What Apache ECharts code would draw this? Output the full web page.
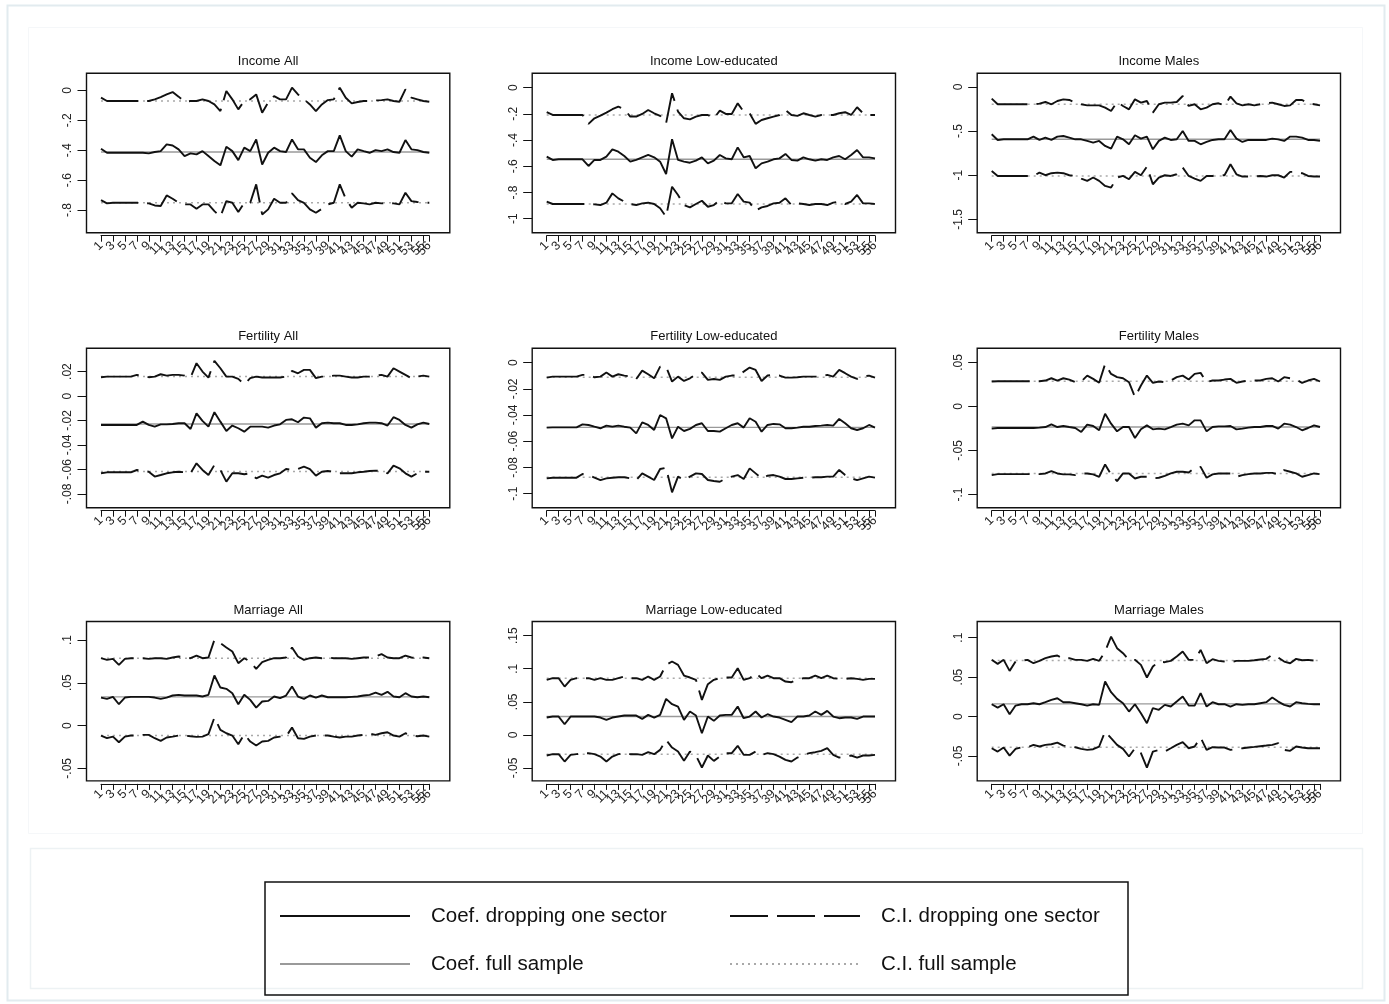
<!DOCTYPE html>
<html><head><meta charset="utf-8">
<script src="https://cdn.jsdelivr.net/npm/echarts@6/dist/echarts.min.js"></script>
<style>html,body{margin:0;padding:0;background:#fff}#c{width:1389px;height:1004px}</style>
</head><body><div id="c"></div><script>
// ---------- data ----------
const sectors = ['1','2','3','4','5','6','7','8','9','10','11','12','13','14','15','16','17','18','19','20','21','22','23','24','25','26','27','28','29','30','31','32','33','34','35','36','37','38','39','40','41','42','43','44','45','46','47','48','49','50','51','52','53','54','55','56'];
const xTickLabels = ['1','3','5','7','9','11','13','15','17','19','21','23','25','27','29','31','33','35','37','39','41','43','45','47','49','51','53','55','56'];
const panelTitles = ['Income All','Income Low-educated','Income Males','Fertility All','Fertility Low-educated','Fertility Males','Marriage All','Marriage Low-educated','Marriage Males'];
const yTicks = [[-0.8,-0.6,-0.4,-0.2,0],[-1,-0.8,-0.6,-0.4,-0.2,0],[-1.5,-1,-0.5,0],[-0.08,-0.06,-0.04,-0.02,0,0.02],[-0.1,-0.08,-0.06,-0.04,-0.02,0],[-0.1,-0.05,0,0.05],[-0.05,0,0.05,0.1],[-0.05,0,0.05,0.1,0.15],[-0.05,0,0.05,0.1]];
const yMin = [-0.951,-1.107,-1.651,-0.0912,-0.1107,-0.115,-0.0647,-0.0696,-0.0816];
const yMax = [0.114,0.109,0.155,0.039,0.0109,0.066,0.1216,0.1714,0.1205];
const fullCoef  = [-0.412,-0.547,-0.593,-0.0228,-0.0494,-0.0234,0.0335,0.0277,0.0161];
const fullUpper = [-0.071,-0.209,-0.196,0.0159,-0.0112,0.0286,0.0787,0.0857,0.0710];
const fullLower = [-0.751,-0.888,-1.008,-0.0617,-0.0875,-0.0761,-0.0117,-0.0292,-0.0389];

const incomeAllUpper = [-0.049,-0.071,-0.071,-0.071,-0.071,-0.071,-0.071,-0.071,-0.071,-0.060,-0.045,-0.027,-0.011,-0.042,-0.076,-0.071,-0.071,-0.060,-0.071,-0.094,-0.138,-0.004,-0.060,-0.127,-0.071,-0.060,-0.027,-0.149,-0.082,-0.038,-0.060,-0.060,0.018,-0.027,-0.060,-0.094,-0.138,-0.094,-0.065,-0.060,0.018,-0.049,-0.087,-0.078,-0.071,-0.071,-0.067,-0.065,-0.060,-0.071,-0.076,0.007,-0.049,-0.060,-0.071,-0.076];
const incomeAllCoef = [-0.390,-0.417,-0.417,-0.417,-0.417,-0.417,-0.417,-0.417,-0.421,-0.412,-0.406,-0.361,-0.368,-0.394,-0.439,-0.421,-0.428,-0.406,-0.439,-0.472,-0.501,-0.377,-0.406,-0.466,-0.383,-0.406,-0.328,-0.495,-0.417,-0.383,-0.406,-0.412,-0.328,-0.394,-0.394,-0.450,-0.479,-0.434,-0.406,-0.406,-0.301,-0.406,-0.443,-0.394,-0.406,-0.417,-0.399,-0.406,-0.394,-0.412,-0.417,-0.332,-0.394,-0.399,-0.412,-0.417];
const incomeAllLower = [-0.733,-0.755,-0.751,-0.751,-0.751,-0.751,-0.751,-0.751,-0.755,-0.769,-0.773,-0.702,-0.724,-0.751,-0.762,-0.762,-0.791,-0.762,-0.762,-0.807,-0.844,-0.740,-0.751,-0.813,-0.751,-0.751,-0.628,-0.829,-0.795,-0.724,-0.751,-0.751,-0.688,-0.733,-0.751,-0.795,-0.818,-0.791,-0.762,-0.751,-0.628,-0.724,-0.784,-0.751,-0.755,-0.762,-0.751,-0.755,-0.751,-0.755,-0.762,-0.684,-0.740,-0.746,-0.751,-0.751];

const incomeLowUpper = [-0.188,-0.209,-0.209,-0.209,-0.209,-0.209,-0.209,-0.277,-0.234,-0.214,-0.191,-0.165,-0.145,-0.165,-0.221,-0.221,-0.201,-0.171,-0.196,-0.216,-0.272,-0.043,-0.183,-0.234,-0.242,-0.221,-0.209,-0.209,-0.234,-0.176,-0.201,-0.201,-0.120,-0.183,-0.196,-0.277,-0.247,-0.234,-0.221,-0.209,-0.171,-0.209,-0.216,-0.196,-0.209,-0.221,-0.209,-0.209,-0.209,-0.196,-0.188,-0.209,-0.150,-0.196,-0.209,-0.209];
const incomeLowCoef = [-0.527,-0.552,-0.547,-0.547,-0.547,-0.547,-0.547,-0.598,-0.552,-0.552,-0.527,-0.471,-0.489,-0.522,-0.565,-0.552,-0.532,-0.514,-0.532,-0.565,-0.659,-0.394,-0.552,-0.565,-0.573,-0.557,-0.532,-0.578,-0.557,-0.514,-0.540,-0.547,-0.456,-0.532,-0.522,-0.616,-0.578,-0.565,-0.547,-0.540,-0.506,-0.552,-0.557,-0.532,-0.547,-0.557,-0.547,-0.552,-0.532,-0.522,-0.547,-0.514,-0.476,-0.532,-0.532,-0.540];
const incomeLowLower = [-0.870,-0.888,-0.888,-0.888,-0.888,-0.888,-0.888,-0.888,-0.891,-0.896,-0.878,-0.807,-0.845,-0.870,-0.888,-0.896,-0.883,-0.878,-0.888,-0.921,-0.985,-0.756,-0.819,-0.896,-0.914,-0.888,-0.863,-0.909,-0.896,-0.858,-0.883,-0.883,-0.812,-0.870,-0.878,-0.939,-0.914,-0.903,-0.883,-0.878,-0.845,-0.896,-0.883,-0.888,-0.896,-0.888,-0.888,-0.896,-0.878,-0.870,-0.888,-0.870,-0.819,-0.883,-0.883,-0.888];

const incomeMalesUpper = [-0.132,-0.196,-0.196,-0.196,-0.196,-0.196,-0.196,-0.196,-0.189,-0.170,-0.196,-0.159,-0.140,-0.147,-0.177,-0.196,-0.208,-0.208,-0.208,-0.234,-0.272,-0.170,-0.215,-0.253,-0.140,-0.177,-0.159,-0.291,-0.196,-0.177,-0.177,-0.170,-0.102,-0.215,-0.196,-0.253,-0.234,-0.196,-0.185,-0.208,-0.109,-0.185,-0.208,-0.196,-0.208,-0.196,-0.185,-0.177,-0.196,-0.215,-0.208,-0.147,-0.147,-0.185,-0.196,-0.208];
const incomeMalesCoef = [-0.536,-0.600,-0.593,-0.593,-0.593,-0.593,-0.593,-0.562,-0.600,-0.574,-0.600,-0.562,-0.555,-0.574,-0.593,-0.593,-0.611,-0.630,-0.611,-0.668,-0.698,-0.562,-0.593,-0.649,-0.547,-0.585,-0.562,-0.706,-0.611,-0.574,-0.600,-0.593,-0.498,-0.611,-0.611,-0.649,-0.623,-0.600,-0.593,-0.593,-0.487,-0.585,-0.623,-0.600,-0.600,-0.600,-0.600,-0.585,-0.593,-0.611,-0.562,-0.562,-0.574,-0.600,-0.600,-0.611];
const incomeMalesLower = [-0.951,-1.008,-1.008,-1.008,-1.008,-1.008,-1.008,-1.008,-0.970,-1.000,-0.977,-0.970,-0.977,-1.000,-1.008,-1.038,-1.064,-1.026,-1.064,-1.121,-1.140,-1.026,-1.008,-1.045,-0.962,-1.000,-0.902,-1.102,-1.026,-1.000,-1.008,-0.989,-0.913,-1.008,-1.038,-1.064,-1.008,-1.008,-1.000,-1.000,-0.876,-0.989,-1.015,-1.015,-1.015,-1.008,-1.015,-1.000,-1.000,-1.026,-0.962,-0.962,-0.977,-1.008,-1.015,-1.015];

const fertilityAllUpper = [0.0154,0.0159,0.0159,0.0159,0.0159,0.0159,0.0173,0.0167,0.0154,0.0159,0.0178,0.0167,0.0173,0.0173,0.0167,0.0151,0.0268,0.0200,0.0151,0.0287,0.0227,0.0159,0.0159,0.0140,0.0096,0.0146,0.0159,0.0151,0.0151,0.0151,0.0151,0.0159,0.0205,0.0186,0.0214,0.0214,0.0146,0.0159,0.0159,0.0167,0.0167,0.0159,0.0151,0.0151,0.0159,0.0159,0.0167,0.0173,0.0159,0.0227,0.0200,0.0173,0.0146,0.0159,0.0167,0.0159];
const fertilityAllCoef = [-0.0236,-0.0236,-0.0236,-0.0236,-0.0236,-0.0236,-0.0236,-0.0209,-0.0236,-0.0250,-0.0231,-0.0231,-0.0228,-0.0222,-0.0222,-0.0269,-0.0141,-0.0203,-0.0250,-0.0132,-0.0209,-0.0285,-0.0241,-0.0263,-0.0291,-0.0250,-0.0250,-0.0250,-0.0258,-0.0241,-0.0231,-0.0195,-0.0190,-0.0214,-0.0176,-0.0182,-0.0258,-0.0222,-0.0217,-0.0222,-0.0222,-0.0236,-0.0236,-0.0231,-0.0222,-0.0217,-0.0217,-0.0222,-0.0241,-0.0173,-0.0195,-0.0236,-0.0258,-0.0231,-0.0217,-0.0228];
const fertilityAllLower = [-0.0631,-0.0623,-0.0623,-0.0623,-0.0623,-0.0623,-0.0604,-0.0612,-0.0618,-0.0658,-0.0645,-0.0631,-0.0623,-0.0618,-0.0623,-0.0631,-0.0549,-0.0604,-0.0645,-0.0563,-0.0604,-0.0699,-0.0631,-0.0631,-0.0639,-0.0631,-0.0672,-0.0650,-0.0667,-0.0645,-0.0631,-0.0596,-0.0604,-0.0596,-0.0577,-0.0596,-0.0650,-0.0618,-0.0612,-0.0618,-0.0631,-0.0631,-0.0631,-0.0623,-0.0618,-0.0612,-0.0609,-0.0612,-0.0631,-0.0568,-0.0590,-0.0631,-0.0658,-0.0631,-0.0618,-0.0618];

const fertilityLowUpper = [-0.0115,-0.0107,-0.0107,-0.0107,-0.0107,-0.0107,-0.0094,-0.0094,-0.0112,-0.0107,-0.0076,-0.0107,-0.0089,-0.0099,-0.0107,-0.0125,-0.0061,-0.0089,-0.0120,-0.0031,-0.0031,-0.0145,-0.0107,-0.0140,-0.0120,-0.0089,-0.0076,-0.0132,-0.0125,-0.0132,-0.0107,-0.0099,-0.0099,-0.0069,-0.0038,-0.0056,-0.0140,-0.0099,-0.0094,-0.0099,-0.0115,-0.0115,-0.0112,-0.0107,-0.0107,-0.0107,-0.0107,-0.0094,-0.0107,-0.0056,-0.0081,-0.0107,-0.0125,-0.0107,-0.0099,-0.0115];
const fertilityLowCoef = [-0.0496,-0.0494,-0.0494,-0.0494,-0.0494,-0.0494,-0.0471,-0.0476,-0.0489,-0.0501,-0.0481,-0.0489,-0.0481,-0.0489,-0.0496,-0.0540,-0.0456,-0.0476,-0.0514,-0.0400,-0.0425,-0.0578,-0.0489,-0.0522,-0.0506,-0.0476,-0.0463,-0.0522,-0.0522,-0.0527,-0.0501,-0.0476,-0.0463,-0.0496,-0.0425,-0.0451,-0.0527,-0.0476,-0.0468,-0.0471,-0.0501,-0.0501,-0.0496,-0.0489,-0.0489,-0.0484,-0.0481,-0.0476,-0.0481,-0.0430,-0.0463,-0.0501,-0.0514,-0.0501,-0.0476,-0.0496];
const fertilityLowLower = [-0.0883,-0.0878,-0.0878,-0.0878,-0.0878,-0.0878,-0.0850,-0.0858,-0.0878,-0.0896,-0.0883,-0.0878,-0.0875,-0.0875,-0.0883,-0.0896,-0.0845,-0.0870,-0.0896,-0.0812,-0.0802,-0.0990,-0.0870,-0.0896,-0.0870,-0.0845,-0.0850,-0.0896,-0.0903,-0.0909,-0.0883,-0.0870,-0.0858,-0.0888,-0.0807,-0.0845,-0.0883,-0.0863,-0.0858,-0.0870,-0.0888,-0.0888,-0.0883,-0.0878,-0.0878,-0.0875,-0.0875,-0.0870,-0.0870,-0.0819,-0.0858,-0.0883,-0.0896,-0.0883,-0.0870,-0.0878];

const fertilityMalesUpper = [0.0283,0.0286,0.0286,0.0286,0.0286,0.0286,0.0286,0.0286,0.0286,0.0294,0.0320,0.0294,0.0320,0.0305,0.0275,0.0283,0.0350,0.0313,0.0268,0.0482,0.0369,0.0332,0.0320,0.0275,0.0106,0.0237,0.0350,0.0268,0.0283,0.0275,0.0294,0.0332,0.0350,0.0305,0.0369,0.0381,0.0275,0.0294,0.0294,0.0305,0.0313,0.0268,0.0283,0.0294,0.0294,0.0294,0.0313,0.0320,0.0283,0.0332,0.0320,0.0305,0.0268,0.0294,0.0313,0.0283];
const fertilityMalesCoef = [-0.0252,-0.0245,-0.0245,-0.0245,-0.0245,-0.0245,-0.0245,-0.0245,-0.0241,-0.0234,-0.0203,-0.0234,-0.0222,-0.0234,-0.0245,-0.0290,-0.0207,-0.0222,-0.0271,-0.0083,-0.0196,-0.0283,-0.0234,-0.0234,-0.0358,-0.0260,-0.0215,-0.0260,-0.0252,-0.0260,-0.0234,-0.0207,-0.0196,-0.0215,-0.0158,-0.0158,-0.0283,-0.0234,-0.0226,-0.0226,-0.0222,-0.0260,-0.0252,-0.0241,-0.0234,-0.0234,-0.0222,-0.0222,-0.0252,-0.0196,-0.0207,-0.0234,-0.0271,-0.0245,-0.0215,-0.0234];
const fertilityMalesLower = [-0.0780,-0.0769,-0.0769,-0.0769,-0.0769,-0.0769,-0.0769,-0.0769,-0.0769,-0.0761,-0.0735,-0.0761,-0.0772,-0.0772,-0.0780,-0.0761,-0.0761,-0.0772,-0.0799,-0.0659,-0.0772,-0.0848,-0.0761,-0.0761,-0.0818,-0.0799,-0.0799,-0.0818,-0.0810,-0.0788,-0.0761,-0.0742,-0.0742,-0.0750,-0.0697,-0.0686,-0.0810,-0.0772,-0.0761,-0.0761,-0.0761,-0.0799,-0.0780,-0.0769,-0.0761,-0.0761,-0.0754,-0.0754,-0.0772,-0.0723,-0.0742,-0.0761,-0.0799,-0.0780,-0.0761,-0.0769];

const marriageAllUpper = [0.0787,0.0768,0.0779,0.0709,0.0779,0.0787,0.0787,0.0787,0.0779,0.0787,0.0787,0.0779,0.0795,0.0807,0.0795,0.0787,0.0818,0.0787,0.0795,0.1002,0.0963,0.0912,0.0865,0.0729,0.0787,0.0748,0.0662,0.0740,0.0768,0.0787,0.0787,0.0795,0.0912,0.0807,0.0768,0.0787,0.0795,0.0787,0.0795,0.0787,0.0787,0.0787,0.0779,0.0787,0.0795,0.0795,0.0807,0.0834,0.0795,0.0787,0.0787,0.0818,0.0795,0.0787,0.0795,0.0787];
const marriageAllCoef = [0.0327,0.0312,0.0335,0.0249,0.0327,0.0335,0.0335,0.0335,0.0335,0.0327,0.0312,0.0327,0.0351,0.0359,0.0351,0.0351,0.0351,0.0339,0.0359,0.0585,0.0444,0.0429,0.0378,0.0249,0.0359,0.0300,0.0210,0.0281,0.0288,0.0339,0.0320,0.0351,0.0456,0.0339,0.0312,0.0351,0.0327,0.0351,0.0331,0.0331,0.0331,0.0331,0.0335,0.0339,0.0351,0.0359,0.0386,0.0359,0.0394,0.0339,0.0331,0.0378,0.0339,0.0331,0.0339,0.0331];
const marriageAllLower = [-0.0117,-0.0148,-0.0129,-0.0195,-0.0129,-0.0117,-0.0117,-0.0109,-0.0109,-0.0148,-0.0179,-0.0140,-0.0129,-0.0117,-0.0117,-0.0125,-0.0132,-0.0129,-0.0101,0.0094,-0.0051,-0.0090,-0.0117,-0.0218,-0.0101,-0.0187,-0.0234,-0.0187,-0.0179,-0.0140,-0.0129,-0.0129,-0.0023,-0.0148,-0.0156,-0.0129,-0.0117,-0.0117,-0.0117,-0.0129,-0.0140,-0.0129,-0.0129,-0.0117,-0.0109,-0.0094,-0.0109,-0.0090,-0.0078,-0.0117,-0.0129,-0.0090,-0.0117,-0.0125,-0.0117,-0.0129];

const marriageLowUpper = [0.0832,0.0857,0.0857,0.0731,0.0832,0.0857,0.0857,0.0857,0.0832,0.0857,0.0832,0.0832,0.0857,0.0882,0.0857,0.0857,0.0832,0.0882,0.0832,0.0882,0.1058,0.1109,0.1058,0.0897,0.0867,0.0832,0.0529,0.0766,0.0832,0.0857,0.0867,0.0867,0.1008,0.0832,0.0857,0.0932,0.0857,0.0897,0.0857,0.0857,0.0806,0.0796,0.0832,0.0857,0.0857,0.0897,0.0857,0.0897,0.0857,0.0847,0.0847,0.0857,0.0847,0.0832,0.0847,0.0847];
const marriageLowCoef = [0.0262,0.0277,0.0277,0.0161,0.0277,0.0277,0.0277,0.0277,0.0277,0.0262,0.0227,0.0262,0.0277,0.0292,0.0292,0.0292,0.0242,0.0302,0.0262,0.0302,0.0544,0.0464,0.0428,0.0227,0.0353,0.0292,0.0025,0.0277,0.0212,0.0292,0.0302,0.0302,0.0428,0.0252,0.0277,0.0353,0.0262,0.0312,0.0277,0.0262,0.0227,0.0192,0.0277,0.0277,0.0292,0.0353,0.0302,0.0363,0.0277,0.0252,0.0262,0.0262,0.0242,0.0277,0.0277,0.0277];
const marriageLowLower = [-0.0312,-0.0292,-0.0292,-0.0403,-0.0302,-0.0292,-0.0282,-0.0277,-0.0292,-0.0328,-0.0403,-0.0328,-0.0292,-0.0277,-0.0292,-0.0292,-0.0302,-0.0262,-0.0292,-0.0227,-0.0076,-0.0192,-0.0252,-0.0393,-0.0252,-0.0312,-0.0494,-0.0312,-0.0393,-0.0328,-0.0277,-0.0277,-0.0166,-0.0302,-0.0302,-0.0252,-0.0302,-0.0277,-0.0292,-0.0328,-0.0378,-0.0403,-0.0343,-0.0302,-0.0277,-0.0262,-0.0242,-0.0202,-0.0302,-0.0343,-0.0328,-0.0312,-0.0343,-0.0312,-0.0312,-0.0302];

const marriageMalesUpper = [0.0719,0.0668,0.0719,0.0579,0.0697,0.0710,0.0719,0.0676,0.0706,0.0740,0.0761,0.0774,0.0731,0.0740,0.0719,0.0719,0.0706,0.0731,0.0706,0.0824,0.1014,0.0867,0.0803,0.0719,0.0719,0.0655,0.0495,0.0634,0.0697,0.0689,0.0706,0.0761,0.0824,0.0719,0.0719,0.0845,0.0676,0.0727,0.0706,0.0697,0.0689,0.0706,0.0706,0.0706,0.0714,0.0723,0.0731,0.0782,0.0748,0.0697,0.0676,0.0731,0.0714,0.0719,0.0710,0.0710];
const marriageMalesCoef = [0.0156,0.0114,0.0156,0.0030,0.0139,0.0156,0.0156,0.0169,0.0156,0.0182,0.0211,0.0232,0.0182,0.0182,0.0169,0.0156,0.0139,0.0156,0.0148,0.0444,0.0309,0.0224,0.0169,0.0063,0.0156,0.0042,-0.0085,0.0106,0.0085,0.0148,0.0127,0.0190,0.0254,0.0139,0.0139,0.0296,0.0127,0.0182,0.0156,0.0156,0.0127,0.0156,0.0148,0.0156,0.0156,0.0169,0.0182,0.0241,0.0190,0.0148,0.0127,0.0182,0.0169,0.0161,0.0156,0.0156];
const marriageMalesLower = [-0.0402,-0.0444,-0.0393,-0.0495,-0.0410,-0.0389,-0.0389,-0.0359,-0.0380,-0.0359,-0.0351,-0.0330,-0.0368,-0.0380,-0.0389,-0.0410,-0.0423,-0.0414,-0.0380,-0.0190,-0.0275,-0.0359,-0.0410,-0.0507,-0.0402,-0.0465,-0.0647,-0.0444,-0.0423,-0.0444,-0.0402,-0.0359,-0.0325,-0.0402,-0.0380,-0.0266,-0.0423,-0.0389,-0.0393,-0.0393,-0.0423,-0.0410,-0.0402,-0.0393,-0.0385,-0.0376,-0.0368,-0.0359,-0.0338,-0.0423,-0.0435,-0.0380,-0.0393,-0.0402,-0.0402,-0.0402];

const upperSets = [incomeAllUpper,incomeLowUpper,incomeMalesUpper,fertilityAllUpper,fertilityLowUpper,fertilityMalesUpper,marriageAllUpper,marriageLowUpper,marriageMalesUpper];
const coefSets  = [incomeAllCoef,incomeLowCoef,incomeMalesCoef,fertilityAllCoef,fertilityLowCoef,fertilityMalesCoef,marriageAllCoef,marriageLowCoef,marriageMalesCoef];
const lowerSets = [incomeAllLower,incomeLowLower,incomeMalesLower,fertilityAllLower,fertilityLowLower,fertilityMalesLower,marriageAllLower,marriageLowLower,marriageMalesLower];

const N_COEF_DROP = 'Coef. dropping one sector', N_CI_DROP = 'C.I. dropping one sector';
const N_COEF_FULL = 'Coef. full sample', N_CI_FULL = 'C.I. full sample';

// ---------- layout ----------
const colLeft = [101, 546.7, 991.7], dataW = 328.3;
const rowTop = [73.3, 348.3, 621.5], boxH = 159.4;
const padL = 14.5, padR = 20.5;
const FONT = '"Liberation Sans", Arial, Helvetica, sans-serif';
const INK = '#111';

function fmt(v){ const s = String(+(+v).toFixed(4)); return s.replace(/^(-?)0\./, '$1.'); }
const shownX = new Set(xTickLabels);

const grid = [], xAxis = [], yAxis = [], series = [], title = [], graphic = [];
graphic.push({type:'rect', silent:true, z:0, shape:{x:7.5,y:5.5,width:1377,height:995}, style:{fill:'none', stroke:'#e2ebef', lineWidth:2}});
graphic.push({type:'rect', silent:true, z:0, shape:{x:28.5,y:27.5,width:1334,height:806}, style:{fill:'none', stroke:'#f5f7f9', lineWidth:1}});
graphic.push({type:'rect', silent:true, z:0, shape:{x:30.5,y:848.5,width:1332,height:140}, style:{fill:'none', stroke:'#edf2f4', lineWidth:1.5}});

for (let i = 0; i < 9; i++) {
  const r = Math.floor(i / 3), c = i % 3;
  grid.push({left: colLeft[c], top: rowTop[r], width: dataW, height: boxH, show: false, containLabel: false, outerBoundsMode: 'none'});
  xAxis.push({type:'category', gridIndex:i, data: sectors, boundaryGap:false, offset:3, position:'bottom',
    axisLine:{show:true, onZero:false, lineStyle:{color:INK, width:1}},
    axisTick:{show:true, length:6, interval:(idx, val) => shownX.has(String(val)), lineStyle:{color:INK, width:1}},
    axisLabel:{show:true, interval:0, rotate:45, fontSize:12.5, margin:8, color:'#222', fontFamily:FONT, hideOverlap:false,
      formatter:(val) => shownX.has(String(val)) ? String(val) : ''},
    splitLine:{show:false}});
  yAxis.push({type:'value', gridIndex:i, min:yMin[i], max:yMax[i], offset:padL, position:'left',
    axisLine:{show:false, onZero:false},
    axisTick:{show:true, length:9, customValues:yTicks[i], lineStyle:{color:INK, width:1}},
    axisLabel:{show:true, customValues:yTicks[i], rotate:90, fontSize:12, margin:13, color:'#222', fontFamily:FONT, formatter:fmt, hideOverlap:false},
    splitLine:{show:false}});
  title.push({text: panelTitles[i], left: colLeft[c] - padL + (dataW + padL + padR) / 2, top: rowTop[r] - 18, textAlign:'center', padding:0,
    textStyle:{fontSize:13, fontWeight:'normal', color:INK, fontFamily:FONT}});
  graphic.push({type:'rect', silent:true, z:10, shape:{x: colLeft[c] - padL, y: rowTop[r], width: dataW + padL + padR, height: boxH},
    style:{fill:'none', stroke:INK, lineWidth:1.4}});

  const base = {type:'line', xAxisIndex:i, yAxisIndex:i, symbol:'none', showSymbol:false, silent:true, animation:false, clip:false, itemStyle:{color:INK}};
  series.push(Object.assign({}, base, {name:N_CI_FULL, z:1, data: sectors.map(() => fullUpper[i]), lineStyle:{color:'#a9a9a9', width:1.5, type:[2,4]}}));
  series.push(Object.assign({}, base, {name:N_CI_FULL, z:1, data: sectors.map(() => fullLower[i]), lineStyle:{color:'#a9a9a9', width:1.5, type:[2,4]}}));
  series.push(Object.assign({}, base, {name:N_COEF_FULL, z:2, data: sectors.map(() => fullCoef[i]), lineStyle:{color:'#9a9a9a', width:1.4, type:'solid'}}));
  series.push(Object.assign({}, base, {name:N_CI_DROP, z:3, data: upperSets[i], lineStyle:{color:INK, width:1.9, type:[38,9]}}));
  series.push(Object.assign({}, base, {name:N_CI_DROP, z:3, data: lowerSets[i], lineStyle:{color:INK, width:1.9, type:[38,9]}}));
  series.push(Object.assign({}, base, {name:N_COEF_DROP, z:4, data: coefSets[i], lineStyle:{color:INK, width:1.9, type:'solid'}}));
}

graphic.push({type:'rect', silent:true, z:10, shape:{x:265, y:882, width:863, height:113}, style:{fill:'none', stroke:INK, lineWidth:1.5}});

const legendText = {fontSize:20.5, color:INK, fontFamily:FONT, lineHeight:24, padding:[0,0,0,16]};
const legendItem = {opacity:0, color:'transparent', borderColor:'transparent', borderWidth:0};
const legend = [
  {orient:'vertical', left:274, top:899, itemWidth:130, itemHeight:14, itemGap:24, selectedMode:false, itemStyle:legendItem,
   data:[N_COEF_DROP, N_COEF_FULL], textStyle:legendText},
  {orient:'vertical', left:724, top:899, itemWidth:130, itemHeight:14, itemGap:24, selectedMode:false, itemStyle:legendItem,
   data:[N_CI_DROP, N_CI_FULL], textStyle:legendText}
];

const chart = echarts.init(document.getElementById('c'));
chart.setOption({animation:false, backgroundColor:'#fff', title, grid, xAxis, yAxis, series, legend, graphic, tooltip:{show:false}});
</script></body></html>
